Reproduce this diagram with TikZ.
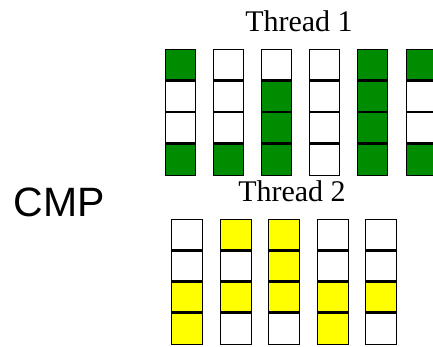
\documentclass[tikz,border=0pt]{standalone}
\usepackage{fontspec}
\setmainfont{Liberation Serif}
\newfontfamily\labelsans{Liberation Sans}
\definecolor{cellgreen}{RGB}{0,140,0}
\definecolor{cellyellow}{RGB}{255,255,0}
\colorlet{G}{cellgreen}
\colorlet{Y}{cellyellow}
\colorlet{W}{white}
\begin{document}
\begin{tikzpicture}[x=1pt,y=-1pt,
  cell/.style={draw=black, line width=0.8pt, minimum width=30pt, minimum height=31.5pt,
    inner sep=0pt, outer sep=0pt, anchor=north west},
  cellb/.style={cell, minimum width=31pt, minimum height=31.25pt},
  sep/.style={line width=2.6pt, black},
  title/.style={font=\fontsize{30}{36}\selectfont, inner sep=0pt},
  side/.style={font=\labelsans\fontsize{41}{48}\selectfont, inner sep=0pt}]
\useasboundingbox (0,0) rectangle (433,346);

% Thread 1: six columns of four slots
\foreach \slots [count=\i] in {{G,W,W,G},{W,W,W,G},{W,G,G,G},{W,W,W,W},{G,G,G,G},{G,W,W,G}} {
  \foreach \v [count=\j] in \slots {
    \node[cell, fill=\v] (a-\i-\j) at ({165+48.2*(\i-1)}, {49+31.5*(\j-1)}) {};
  }
  \foreach \j in {1,2,3} {
    \draw[sep] (a-\i-\j.south west) -- (a-\i-\j.south east);
  }
}

% Thread 2: five columns of four slots
\foreach \slots [count=\i] in {{W,W,Y,Y},{Y,W,Y,W},{Y,Y,Y,W},{W,W,Y,Y},{W,W,Y,W}} {
  \foreach \v [count=\j] in \slots {
    \node[cellb, fill=\v] (b-\i-\j) at ({171.5+48.5*(\i-1)}, {219+31.25*(\j-1)}) {};
  }
  \foreach \j in {1,2,3} {
    \draw[sep] (b-\i-\j.south west) -- (b-\i-\j.south east);
  }
}

\node[title] (thread1) at (299,21) {Thread 1};
\node[title] (thread2) at (292,191.5) {Thread 2};
\node[side] (cmp) at (59,202) {CMP};
\end{tikzpicture}
\end{document}
